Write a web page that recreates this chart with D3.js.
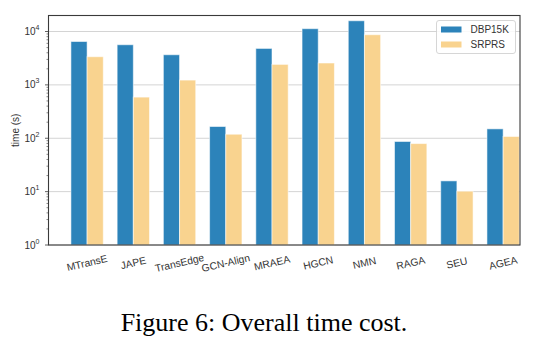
<!DOCTYPE html>
<html>
<head>
<meta charset="utf-8">
<script src="https://cdn.jsdelivr.net/npm/d3@7"></script>
<style>
  html, body { margin: 0; padding: 0; background: #fff; }
  svg { display: block; }
</style>
</head>
<body>
<svg id="chart" width="539" height="347"></svg>
<script>
// Running time (seconds) per method on the two benchmark datasets
const methods = ["MTransE", "JAPE", "TransEdge", "GCN-Align", "MRAEA", "HGCN", "NMN", "RAGA", "SEU", "AGEA"];
const dbp15k = [6500, 5650, 3670, 166, 4820, 11300, 15900, 87, 15.9, 150];
const srprs  = [3370, 590, 1230, 119, 2420, 2570, 8700, 79.5, 10.2, 108];
const seriesNames = ["DBP15K", "SRPRS"];
const seriesColors = ["#2c83ba", "#f9d38f"];
const yTicks = [1, 10, 100, 1000, 10000];
const yLabel = "time (s)";
const caption = "Figure 6: Overall time cost.";

const svg = d3.select("#chart");
const font = "'Liberation Sans', Arial, Helvetica, sans-serif";
const plotL = 48.5, plotR = 520, plotT = 15.5, plotB = 245;

const barW = 0.35;
const x = d3.scaleLinear().domain([-0.5 - barW + 0.015, methods.length - 1 + barW + 0.015]).range([plotL, plotR]);
const y = d3.scaleLog().domain([1, 10 ** 4.3]).range([plotB, plotT]);

// grid lines at each decade
svg.append("g").selectAll("line").data(yTicks).join("line")
  .attr("x1", plotL).attr("x2", plotR)
  .attr("y1", d => y(d)).attr("y2", d => y(d))
  .attr("stroke", "#d4d4d4").attr("stroke-width", 1);

// bars
const series = [dbp15k, srprs];
series.forEach((vals, s) => {
  svg.append("g").selectAll("rect").data(vals).join("rect")
    .attr("x", (d, i) => x(i + (s === 0 ? -barW : 0)))
    .attr("width", x(barW) - x(0))
    .attr("y", d => y(d))
    .attr("height", d => y(1) - y(d))
    .attr("fill", seriesColors[s])
    .attr("stroke", "rgba(255,255,255,0.55)")
    .attr("stroke-width", 1);
});

// frame
svg.append("rect")
  .attr("x", plotL).attr("y", plotT)
  .attr("width", plotR - plotL).attr("height", plotB - plotT)
  .attr("fill", "none").attr("stroke", "#3a3a3a").attr("stroke-width", 1.1);

// y axis: major ticks with power-of-ten labels, plus minor ticks
const yAxis = svg.append("g");
const minor = [];
for (let e = 0; e < 5; e++) for (let m = 2; m <= 9; m++) {
  const v = m * 10 ** e;
  if (v <= y.domain()[1]) minor.push(v);
}
yAxis.selectAll("line.minor").data(minor).join("line")
  .attr("x1", plotL - 2).attr("x2", plotL)
  .attr("y1", d => y(d)).attr("y2", d => y(d))
  .attr("stroke", "#3a3a3a").attr("stroke-width", 0.6);
yAxis.selectAll("line.major").data(yTicks).join("line")
  .attr("x1", plotL - 3.5).attr("x2", plotL)
  .attr("y1", d => y(d)).attr("y2", d => y(d))
  .attr("stroke", "#3a3a3a").attr("stroke-width", 0.8);
const yl = yAxis.selectAll("text").data(yTicks).join("text")
  .attr("x", plotL - 9).attr("y", d => y(d) + 3.5)
  .attr("text-anchor", "end")
  .attr("font-family", font).attr("font-size", 10).attr("fill", "#333");
yl.append("tspan").text("10");
yl.append("tspan").attr("font-size", 7).attr("dy", -5).text(d => Math.round(Math.log10(d)));

svg.append("text")
  .attr("transform", `translate(15,${(plotT + plotB) / 2}) rotate(-90)`)
  .attr("text-anchor", "middle").attr("dominant-baseline", "central")
  .attr("font-family", font).attr("font-size", 10).attr("fill", "#333")
  .text(yLabel);

// x tick labels, slightly rotated
svg.append("g").selectAll("text").data(methods).join("text")
  .attr("transform", (d, i) => `translate(${x(i)},${plotB + 18}) rotate(-13)`)
  .attr("text-anchor", "middle").attr("dominant-baseline", "central")
  .attr("font-family", font).attr("font-size", 10.3).attr("fill", "#333")
  .text(d => d);

// legend
const lg = svg.append("g").attr("transform", "translate(436.5,20.5)");
lg.append("rect").attr("width", 79).attr("height", 33).attr("rx", 2.5)
  .attr("fill", "rgba(255,255,255,0.85)").attr("stroke", "#cccccc").attr("stroke-width", 0.8);
seriesNames.forEach((n, i) => {
  lg.append("rect").attr("x", 4.5).attr("y", 6 + i * 15).attr("width", 20.5).attr("height", 6)
    .attr("fill", seriesColors[i]);
  lg.append("text").attr("x", 34).attr("y", 9 + i * 15)
    .attr("dominant-baseline", "central")
    .attr("font-family", font).attr("font-size", 10).attr("fill", "#333").text(n);
});

// caption
svg.append("text")
  .attr("x", 264).attr("y", 331)
  .attr("text-anchor", "middle")
  .attr("font-family", "'Liberation Serif', 'Times New Roman', serif")
  .attr("font-size", 26).attr("fill", "#000")
  .text(caption);
</script>
</body>
</html>
